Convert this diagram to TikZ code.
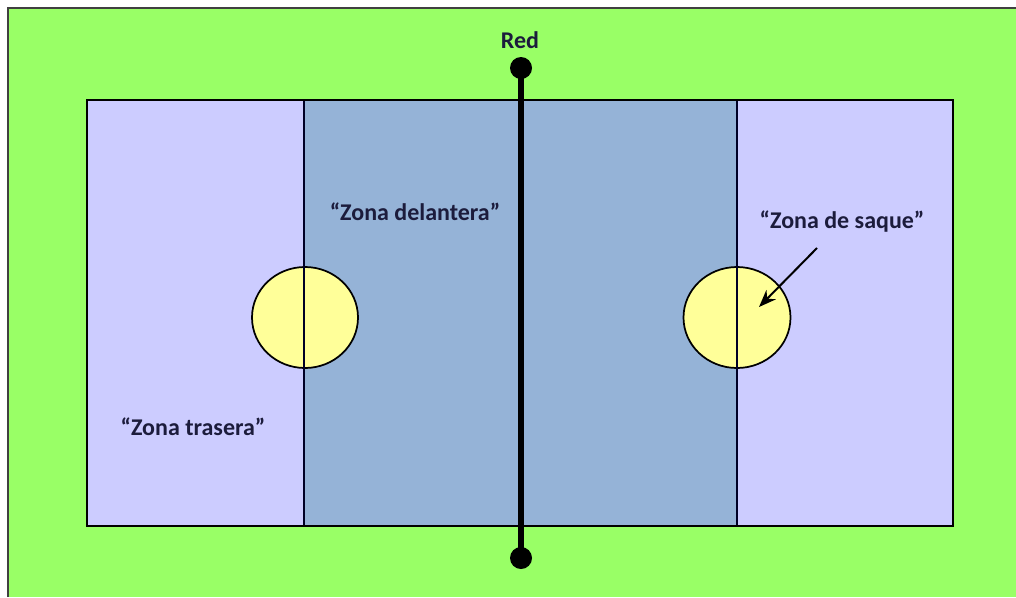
\documentclass[tikz,border=0pt]{standalone}
\usepackage{fontspec}
\setmainfont{Carlito}
\usetikzlibrary{arrows.meta}
\definecolor{fieldgreen}{HTML}{99FF66}
\definecolor{backzone}{HTML}{CCCCFF}
\definecolor{frontzone}{HTML}{95B3D7}
\definecolor{servezone}{HTML}{FFFF99}
\definecolor{labeltext}{HTML}{1C1C3C}
\tikzset{
  zonelabel/.style={font=\bfseries\fontsize{18}{20}\selectfont, text=labeltext, inner sep=0pt},
  servecircle/.style={draw=black, line width=1.3pt, fill=servezone},
  divider/.style={draw=black!85!blue, line width=1.1pt},
  netdot/.style={circle, fill=black, minimum size=16.5pt, inner sep=0pt},
}
\begin{document}
\begin{tikzpicture}[x=0.75pt, y=-0.75pt]
\useasboundingbox (0,0) rectangle (1016,597);
\begin{scope}
\clip (0,0) rectangle (1016,597);
\fill[white] (0,0) rectangle (1016,597);
% green field
\fill[fieldgreen] (8,8) rectangle (1016,597);
\draw[black!75, line width=1.4pt] (8,597) -- (8,8) -- (1016,8);
\end{scope}
% court zones
\fill[backzone] (87,100) rectangle (304,526);
\fill[frontzone] (304,100) rectangle (737,526);
\fill[backzone] (737,100) rectangle (953,526);
% serve circles
\draw[servecircle] (305,317.5) ellipse [x radius=53, y radius=50.5];
\draw[servecircle] (737,317.5) ellipse [x radius=53.5, y radius=50.5];
% dividers
\draw[divider] (304,100) -- (304,526);
\draw[divider] (737,100) -- (737,526);
% court border
\draw[black, line width=2pt] (87,100) rectangle (953,526);
% net
\node[netdot] (dtop) at (521,68) {};
\node[netdot] (dbot) at (521,558) {};
\draw[black, line width=5.2pt] (dtop.center) -- (dbot.center);
\node[zonelabel] (red) at (520,40) {Red};
% labels
\node[zonelabel] (front) at (415,212) {“Zona delantera”};
\node[zonelabel] (back) at (193,427) {“Zona trasera”};
\node[zonelabel] (serve) at (842,222) {“Zona de saque”};
\coordinate (arrowstart) at (817,248);
\coordinate (arrowtip) at (759,307);
\draw[line width=1.5pt, -{Stealth[length=13pt, width=10pt]}] (arrowstart) -- (arrowtip);
\end{tikzpicture}
\end{document}
